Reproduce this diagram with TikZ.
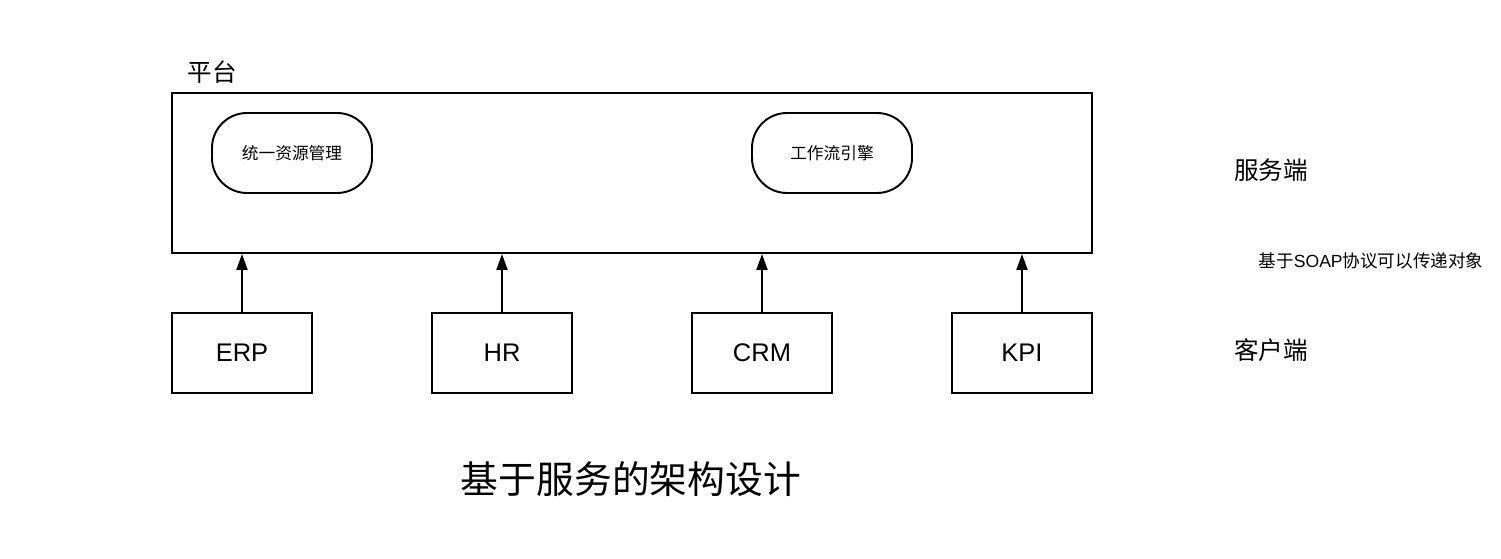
\documentclass[tikz,border=0pt]{standalone}
\usepackage{fontspec}
\setmainfont{Liberation Sans}
\newfontfamily\cjk{Noto Sans CJK SC}
\usepackage{tikz}
\usetikzlibrary{positioning}
\usetikzlibrary{arrows.meta}

\begin{document}
\begin{tikzpicture}[
    box/.style={draw, line width=1.1pt, minimum width=2.8cm, minimum height=1.6cm, font=\fontsize{14.5}{16}\selectfont},
    svc/.style={draw, line width=1.1pt, rounded corners=0.7cm, minimum width=3.2cm, minimum height=1.6cm, font=\cjk\fontsize{9.5}{11}\selectfont},
    side/.style={font=\cjk\fontsize{14}{16}\selectfont},
    arr/.style={line width=1.1pt, -{Triangle[length=0.32cm,width=0.22cm]}}
]
            \useasboundingbox (0,0) rectangle (30.02,-11.18);
            % Platform (server side)
            \node[draw, line width=1.1pt, minimum width=18.4cm, minimum height=3.2cm] (plat) at (12.64,-3.46) {};
            \node[side] (platlabel) at (4.24,-1.44) {平台};
            \node[svc] (res) at (5.84,-3.06) {统一资源管理};
            \node[svc] (flow) at (16.64,-3.06) {工作流引擎};
            % Clients
            \node[box] (erp) at (4.84,-7.06) {ERP};
            \node[box] (hr) at (10.04,-7.06) {HR};
            \node[box] (crm) at (15.24,-7.06) {CRM};
            \node[box] (kpi) at (20.44,-7.06) {KPI};
            \draw[arr] (erp.north) -- (erp.north |- plat.south);
            \draw[arr] (hr.north) -- (hr.north |- plat.south);
            \draw[arr] (crm.north) -- (crm.north |- plat.south);
            \draw[arr] (kpi.north) -- (kpi.north |- plat.south);
            % Right side labels
            \node[side] (server) at (25.42,-3.4) {服务端};
            \node[font=\fontsize{10}{12}\selectfont] (soap) at (27.42,-5.22) {{\cjk 基于}SOAP{\cjk 协议可以传递对象}};
            \node[side] (client) at (25.42,-7.0) {客户端};
            % Title
            \node[font=\cjk\fontsize{21.5}{24}\selectfont] (title) at (12.62,-9.58) {基于服务的架构设计};
        \end{tikzpicture}
\end{document}
